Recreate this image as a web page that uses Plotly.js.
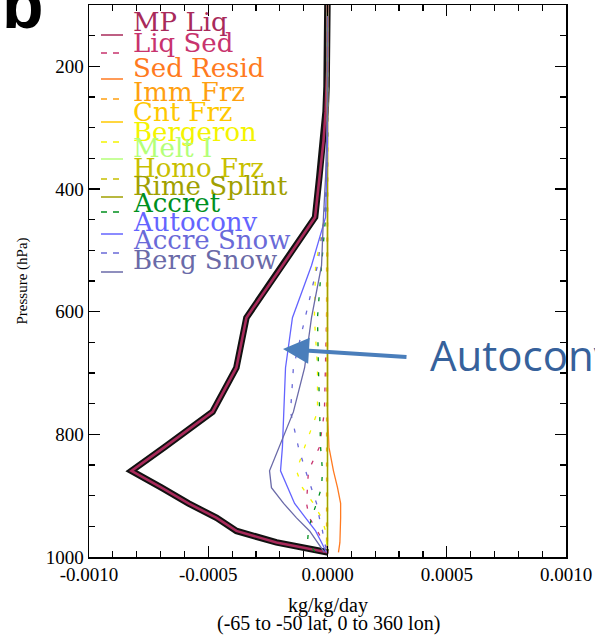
<!DOCTYPE html>
<html><head><meta charset="utf-8">
<script src="https://cdn.plot.ly/plotly-3.0.1.min.js"></script>
<style>html,body{margin:0;padding:0;background:#fff;} #chart{width:595px;height:637px;}</style>
</head><body><div id="chart"></div>
<script>
// ---------------- DATA ----------------
const pressure = [87.8, 103.3, 121.5, 143.0, 168.2, 197.9, 232.8, 273.9, 322.2, 379.1, 446.0, 524.7, 609.8, 691.4, 763.4, 820.9, 859.5, 887.0, 912.6, 936.2, 957.5, 976.3, 992.6];

const seriesNames = ["MP Liq", "Liq Sed", "Sed Resid", "Imm Frz", "Cnt Frz", "Bergeron", "Melt I", "Homo Frz", "Rime Splint", "Accret", "Autoconv", "Accre Snow", "Berg Snow"];

const mpLiq      = [0,0,0,0,0,0,-0.000004,-0.000008,-0.000017,-0.000034,-0.000052,-0.000189,-0.00034,-0.000382,-0.000482,-0.000683,-0.000822,-0.000696,-0.000583,-0.000465,-0.000382,-0.000214,0.000004];
const liqSed     = [0,0,0,0,0,0,0,0,0,0,0,0,-0.000004,-0.000008,-0.000013,-0.000034,-0.00008,-0.000084,-0.000088,-0.000076,-0.000042,-0.000017,0.000013];
const sedResid   = [0,0,0,0,0,0,0,0,0,0,0,0,0,0,0,0.000006,0.000025,0.000042,0.000055,0.000055,0.000055,0.000052,0.000046];
const immFrz     = [0,0,0,0,0,0,0,0,0,0,0,-0.000004,-0.000004,-0.000004,-0.000004,-0.000004,-0.000004,-0.000004,-0.000004,-0.000004,-0.000004,-0.000004,0];
const cntFrz     = [0,0,0,0,0,0,0,0,0,0,0,0,0,0,0,0,0,0,0,0,0,0,0];
const bergeron   = [0,0,0,0,0,0,0,0,0,-0.000004,-0.000013,-0.00005,-0.000055,-0.000042,-0.000042,-0.000096,-0.00013,-0.000105,-0.000059,-0.000025,-0.000008,-0.000004,0];
const meltI      = [0,0,0,0,0,0,0,0,0,0,0,0,0,0,0,0,0,0,0,0,0,0,0];
const homoFrz    = [0,0,0,0,0,0,0,0,0,0,0,0,0,0,0,0,0,0,0,0,0,0,0];
const rimeSplint = [0,0,0,0,0,0,0,0,0,0,0,0,0,0,0,0,0,0,0,0,0,0,0];
const accret     = [0,0,0,0,0,0,0,0,0,-0.000004,-0.000008,-0.000025,-0.000042,-0.000038,-0.000034,-0.000029,-0.000021,-0.000025,-0.000046,-0.000067,-0.00008,-0.000084,-0.00005];
const autoconv   = [0,0,0,0,0,0,0,0,0,-0.000004,-0.000008,-0.000067,-0.000147,-0.000176,-0.000184,-0.000189,-0.000197,-0.000168,-0.000138,-0.000092,-0.00005,-0.000025,-0.000004];
const accreSnow  = [0,0,0,0,0,0,0,0,0,-0.000004,-0.000013,-0.000042,-0.000092,-0.000143,-0.000155,-0.000122,-0.000092,-0.000067,-0.000046,-0.000034,-0.000021,-0.000013,0];
const bergSnow   = [0,0,0,0,0,0,0,0,-0.000004,-0.000008,-0.000017,-0.000025,-0.000067,-0.000096,-0.000143,-0.000201,-0.000243,-0.000235,-0.000184,-0.00013,-0.000075,-0.000042,-0.000013];

const xTickVals = [-0.001, -0.0005, 0, 0.0005, 0.001];
const xTickText = ["-0.0010", "-0.0005", "0.0000", "0.0005", "0.0010"];
const yTickVals = [200, 400, 600, 800, 1000];
const yTickText = ["200", "400", "600", "800", "1000"];

const xTitle1 = "kg/kg/day";
const xTitle2 = "(-65 to -50 lat, 0 to 360 lon)";
const yTitle = "Pressure (hPa)";
const calloutText = "Autoconv";
const panelLabel = "b";

// ---------------- STYLE ----------------
const series = [mpLiq, liqSed, sedResid, immFrz, cntFrz, bergeron, meltI, homoFrz, rimeSplint, accret, autoconv, accreSnow, bergSnow];
const colors = ['#a82a5a','#c8336e','#ff7a20','#ffa010','#ffc800','#f4f400','#b4ff78','#c8c000','#a0a000','#00901e','#6464ff','#6a6ad8','#6a6aa8'];
const dashed = [false,true,false,true,false,true,false,true,false,true,false,true,false];

const W = 595, H = 637, L = 89, R = 566, T = 5, B = 557;
const fx = px => (px - L) / (R - L);
const fy = py => (B - py) / (B - T);

const legTextBase = [31,52,77,101,121,141,157,177,195,212,231,249,269];
const legSampleY  = [35,53,79,99,122,142,159,179,197,212,234,253,272];

const traces = [];
traces.push({x: mpLiq, y: pressure, mode: 'lines', line: {color: '#111', width: 6.5}, hoverinfo: 'skip', showlegend: false});
series.forEach((s, i) => {
  traces.push({
    x: s, y: pressure, mode: 'lines', name: seriesNames[i], showlegend: false,
    line: {color: colors[i], width: i === 0 ? 2.6 : 1.3, dash: dashed[i] ? '4px,11px' : 'solid'}
  });
});

const serif = 'Liberation Serif, Times New Roman, serif';
const annotations = [];
const shapes = [];
seriesNames.forEach((n, i) => {
  shapes.push({type: 'line', xref: 'paper', yref: 'paper', x0: fx(101), x1: fx(123), y0: fy(legSampleY[i]), y1: fy(legSampleY[i]),
    line: {color: colors[i], width: 1.5, dash: dashed[i] ? '6px,6px' : 'solid'}});
  annotations.push({xref: 'paper', yref: 'paper', x: fx(131), y: fy(legTextBase[i] - 9), xanchor: 'left', yanchor: 'middle',
    text: n, showarrow: false, font: {family: 'DejaVu Serif, serif', size: 26, color: colors[i]}});
});
annotations.push({xref: 'paper', yref: 'paper', x: fx(328), y: fy(605), xanchor: 'center', yanchor: 'middle', text: xTitle1, showarrow: false, font: {family: serif, size: 20, color: '#000'}});
annotations.push({xref: 'paper', yref: 'paper', x: fx(328), y: fy(623), xanchor: 'center', yanchor: 'middle', text: xTitle2, showarrow: false, font: {family: serif, size: 20, color: '#000'}});
annotations.push({xref: 'paper', yref: 'paper', x: fx(283), y: fy(349), ax: 125, ay: 8, text: '', showarrow: true,
  arrowhead: 2, arrowsize: 1.3, arrowwidth: 4, arrowcolor: '#4a7ebb'});
annotations.push({xref: 'paper', yref: 'paper', x: fx(428), y: fy(355), xanchor: 'left', yanchor: 'middle', text: calloutText, showarrow: false,
  font: {family: 'Open Sans, sans-serif', size: 42, color: '#36619b'}});
annotations.push({xref: 'paper', yref: 'paper', x: fx(0), y: fy(4), xanchor: 'left', yanchor: 'middle', text: '<b>' + panelLabel + '</b>', showarrow: false,
  font: {family: 'Liberation Sans, sans-serif', size: 68, color: '#000'}});

const axisCommon = {
  showgrid: false, zeroline: false, showline: true, linecolor: '#000', linewidth: 1.5, mirror: 'allticks',
  ticks: 'inside', ticklen: 11, tickwidth: 1.3, tickcolor: '#000',
  tickfont: {family: serif, size: 19, color: '#000'}, tickmode: 'array'
};

const layout = {
  width: W, height: H, paper_bgcolor: '#fff', plot_bgcolor: '#fff',
  margin: {l: L, r: W - R, t: T, b: H - B},
  showlegend: false,
  xaxis: Object.assign({}, axisCommon, {range: [-0.001, 0.001], tickvals: xTickVals, ticktext: xTickText,
    minor: {tickmode: 'linear', tick0: 0, dtick: 0.0001, ticks: 'inside', ticklen: 6, tickwidth: 1.2, tickcolor: '#000', showgrid: false}}),
  yaxis: Object.assign({}, axisCommon, {range: [1000, 100], tickvals: yTickVals, ticktext: yTickText,
    title: {text: yTitle, font: {family: serif, size: 15, color: '#000'}, standoff: 14},
    minor: {tickmode: 'linear', tick0: 0, dtick: 50, ticks: 'inside', ticklen: 6, tickwidth: 1.2, tickcolor: '#000', showgrid: false}}),
  annotations: annotations,
  shapes: shapes
};

Plotly.newPlot('chart', traces, layout, {staticPlot: true, displayModeBar: false});
</script>
</body></html>
